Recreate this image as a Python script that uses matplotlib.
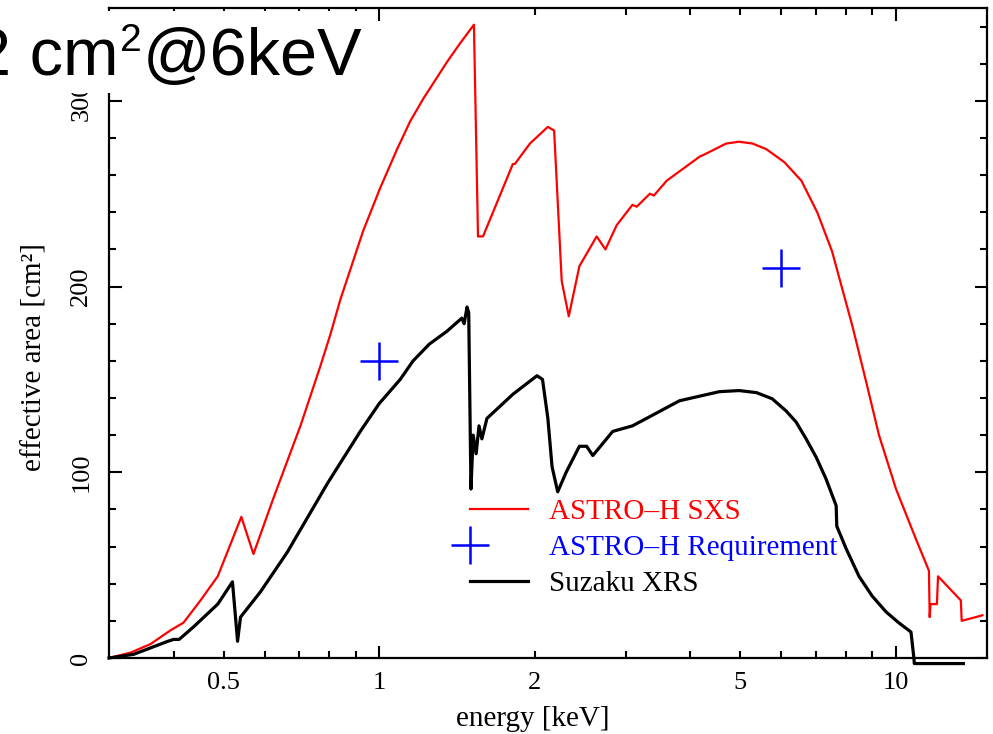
import matplotlib
matplotlib.use("Agg")
import matplotlib.pyplot as plt
from matplotlib.lines import Line2D
from matplotlib.patches import Rectangle
from matplotlib.legend_handler import HandlerLine2D
from matplotlib.ticker import FixedLocator, FuncFormatter, NullFormatter

# ASTRO-H SXS effective area [cm2] vs energy [keV]
sxs_energy = [0.30, 0.331, 0.361, 0.395, 0.418, 0.451, 0.487, 0.541, 0.571, 0.624,
              0.704, 0.769, 0.804, 0.841, 0.931, 1.004, 1.083, 1.148, 1.216, 1.353,
              1.434, 1.525, 1.553, 1.588, 1.814, 1.83, 1.957, 2.12, 2.18, 2.255,
              2.327, 2.44, 2.635, 2.74, 2.88, 3.09, 3.15, 3.34, 3.40, 3.60,
              4.17, 4.25, 4.69, 4.97, 5.28, 5.61, 6.08, 6.56, 7.04, 7.52,
              8.23, 8.75, 9.27, 10.0, 10.93, 11.58, 11.62, 11.66, 12.0, 12.06,
              13.35, 13.40, 14.7]
sxs_area = [0, 3, 7.5, 15, 19, 31, 44, 76, 56, 86,
            125, 157, 174, 193, 230, 253, 274, 289, 301, 321,
            331, 341, 227, 227, 266, 266, 277, 286, 284, 203,
            184, 211, 227, 220, 233, 244, 243, 250, 249, 257,
            270, 271, 277, 278, 277, 274, 267, 257, 240, 219,
            179, 149, 120, 91, 64, 47, 22, 29, 29, 44,
            31, 20, 23]

# Suzaku XRS effective area
xrs_energy = [0.30, 0.335, 0.390, 0.400, 0.410, 0.437, 0.487, 0.520, 0.526, 0.532,
              0.539, 0.589, 0.664, 0.794, 0.919, 1.0, 1.098, 1.163, 1.25, 1.353,
              1.445, 1.46, 1.479, 1.49, 1.505, 1.52, 1.54, 1.56, 1.58, 1.616,
              1.814, 2.02, 2.07, 2.12, 2.16, 2.215, 2.30, 2.44, 2.52, 2.59,
              2.83, 3.09, 3.29, 3.81, 4.17, 4.55, 4.97, 5.37, 5.76, 6.13,
              6.41, 6.70, 7.01, 7.32, 7.66, 7.68, 8.01, 8.48, 8.99, 9.57,
              10.13, 10.69, 10.83, 10.85, 13.5]
xrs_area = [0, 2, 9, 10, 10, 16.7, 29, 41, 25, 9,
            22, 35.6, 57, 94, 122, 137, 150, 160, 169, 176,
            183, 180, 189, 186, 91, 120, 110, 125, 118, 129,
            142, 152, 150, 129, 103, 89.5, 100, 114, 114, 109,
            122, 125, 129, 138.5, 141, 143.4, 144, 142.9, 139.6, 133,
            127, 118, 108, 96.5, 82, 71, 58.8, 44, 33.4, 24.8,
            18.9, 14, 0, -3, -3]

# requirement points
req_energy = [1.0, 6.0]
req_area = [160, 210]

plt.rcParams["font.family"] = ["Liberation Serif", "DejaVu Serif"]
sans = ["Liberation Sans", "DejaVu Sans"]


class MarkerAtStart(HandlerLine2D):
    # single legend marker sits at the left end of the handle box
    def get_xdata(self, legend, xdescent, ydescent, width, height, fontsize):
        xdata, xmark = super().get_xdata(legend, xdescent, ydescent, width, height, fontsize)
        return [-xdescent - width, -xdescent + width], [-xdescent]


fig = plt.figure(figsize=(9.93, 7.34), dpi=100)
ax = fig.add_axes([109 / 993, 1 - 658 / 734, 878 / 993, 650 / 734])

ax.plot(sxs_energy, sxs_area, color="#ff0000", lw=1.6)
ax.plot(xrs_energy, xrs_area, color="black", lw=2.3, clip_on=False)
ax.plot(req_energy, req_area, ls="none", marker="+", ms=27, mew=1.8, color="#0000ff")

ax.set_xscale("log")
ax.set_xlim(0.3, 15)
ax.set_ylim(0, 350)

ax.xaxis.set_major_locator(FixedLocator([1, 10]))
ax.xaxis.set_minor_locator(FixedLocator([0.4, 0.5, 0.6, 0.7, 0.8, 0.9,
                                         2, 3, 4, 5, 6, 7, 8, 9]))
ax.xaxis.set_major_formatter(FuncFormatter(lambda v, p: "%g" % v))
ax.xaxis.set_minor_formatter(FuncFormatter(
    lambda v, p: "%g" % v if round(v, 2) in (0.5, 2, 5) else ""))
ax.yaxis.set_major_locator(FixedLocator([0, 100, 200, 300]))
ax.yaxis.set_minor_locator(FixedLocator(range(20, 350, 20)))
ax.yaxis.set_minor_formatter(NullFormatter())

ax.tick_params(which="both", direction="in", top=True, right=True, width=1.5,
               labelsize=19)
ax.tick_params(which="major", length=9)
ax.tick_params(which="minor", length=5)
ax.tick_params(axis="x", which="both", pad=10)
ax.tick_params(axis="y", which="both", pad=12, labelrotation=90)
for lab in ax.get_yticklabels():
    lab.set_verticalalignment("center")
for sp in ax.spines.values():
    sp.set_linewidth(1.6)

ax.set_xlabel("energy [keV]", fontsize=21)
ax.xaxis.set_label_coords((533 - 109) / 878, (658 - 706) / 650)
ax.set_ylabel("effective area [cm²]", fontsize=21)
ax.yaxis.label.set_verticalalignment("center")
ax.yaxis.set_label_coords((35 - 109) / 878, (658 - 357) / 650)

plus = Line2D([], [], color="#0000ff", ls="none", marker="+", ms=27, mew=1.8)
handles = [Line2D([], [], color="#ff0000", lw=1.6), plus,
           Line2D([], [], color="black", lw=2.3)]
ax.legend(handles, ["ASTRO–H SXS", "ASTRO–H Requirement", "Suzaku XRS"],
          loc="upper left", bbox_to_anchor=((470 - 109) / 878, (658 - 499) / 650),
          frameon=False, fontsize=21, borderpad=0, borderaxespad=0,
          handlelength=2.0, handletextpad=0.7, labelspacing=0.32,
          handler_map={plus: MarkerAtStart(numpoints=1)},
          labelcolor=["#ff0000", "#0000ff", "black"])

# headline text over the top-left corner, with a hand-set superscript
fig.patches.append(Rectangle((0, 1 - 93 / 734), 367 / 993, 82 / 734,
                             transform=fig.transFigure, facecolor="white",
                             edgecolor="none", zorder=5))
renderer = fig.canvas.get_renderer()
base = 1 - 75 / 734
t1 = fig.text(-26 / 993, base, "2 cm", fontsize=48, family=sans,
              va="baseline", zorder=6)
x1 = t1.get_window_extent(renderer).x1
t2 = fig.text((x1 + 1) / 993, base + 24 / 734, "2", fontsize=28, family=sans,
              va="baseline", zorder=6)
x2 = t2.get_window_extent(renderer).x1
fig.text((x2 + 1) / 993, base, "@6keV", fontsize=48, family=sans,
         va="baseline", zorder=6)

fig.savefig("out.png", dpi=100)
